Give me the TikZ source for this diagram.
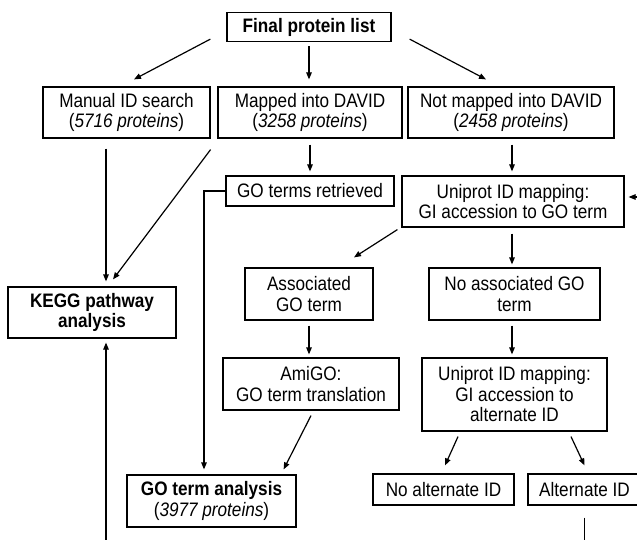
\documentclass[tikz,border=0pt]{standalone}
\usepackage{fontspec}
\setmainfont{Liberation Sans}[FakeStretch=0.88]
\usetikzlibrary{arrows.meta}
\tikzset{
    flow-box/.style = {draw=black, fill=white, line width=1.2pt, rectangle, align=center, inner sep=0pt, font=\fontsize{19.5}{20.5}\selectfont},
    flow-box-bold/.style = {flow-box, font=\fontsize{19.5}{20.5}\selectfont\bfseries},
    flow-arrow/.style = {line width=1.2pt, -{Triangle[length=7pt,width=5.5pt]}},
    flow-line/.style = {line width=1.2pt},
}
\begin{document}
\begin{tikzpicture}[x=1pt, y=-1pt]
\useasboundingbox (0,0) rectangle (637,540);
\fill[white] (0,0) rectangle (637,540);
\clip (0,0) rectangle (637,540);
\node [flow-box-bold, minimum width=164, minimum height=29] (final) at (309,27) {Final protein list};
\node [flow-box, minimum width=167, minimum height=51] (manual) at (126.5,112.5) {Manual ID search\\(\textit{5716 proteins})};
\node [flow-box, minimum width=184, minimum height=51] (mapped) at (310,112.5) {Mapped into DAVID\\(\textit{3258 proteins})};
\node [flow-box, minimum width=206, minimum height=51] (notmapped) at (511,112.5) {Not mapped into DAVID\\(\textit{2458 proteins})};
\node [flow-box, minimum width=168, minimum height=30] (goret) at (310,191) {GO terms retrieved};
\node [flow-box, minimum width=222, minimum height=51] (uniprot1) at (513,201.5) {Uniprot ID mapping:\\GI accession to GO term};
\node [flow-box-bold, minimum width=168, minimum height=51] (kegg) at (92,312.5) {KEGG pathway\\analysis};
\node [flow-box, minimum width=128, minimum height=52] (assoc) at (309,294) {Associated\\GO term};
\node [flow-box, minimum width=171, minimum height=52] (noassoc) at (514.5,294) {No associated GO\\term};
\node [flow-box, minimum width=176, minimum height=52] (amigo) at (311,384) {AmiGO:\\GO term translation};
\node [flow-box, minimum width=185, minimum height=73] (uniprot2) at (514.5,394.5) {Uniprot ID mapping:\\GI accession to\\alternate ID};
\node [flow-box, minimum width=169, minimum height=52] (goanal) at (211.5,501) {\textbf{GO term analysis}\\(\textit{3977 proteins})};
\node [flow-box, minimum width=141, minimum height=31] (noalt) at (443.5,489.5) {No alternate ID};
\node [flow-box, minimum width=113, minimum height=31] (alt) at (584.5,489.5) {Alternate ID};
% free ends leaving the picture
\coordinate (keggin) at (106,560);
\coordinate (altout) at (585,560);
\coordinate (loopin) at (660,197);
% connectors
\draw [flow-arrow] ([xshift=-16,yshift=3]final.south west) -- ([xshift=7.5,yshift=7]manual.north);
\draw [flow-arrow, shorten <=4pt, shorten >=7pt] (final.south) -- (final.south |- mapped.north);
\draw [flow-arrow] ([xshift=18,yshift=3]final.south east) -- ([xshift=-25,yshift=7]notmapped.north);
\draw [flow-arrow] ([xshift=-20.5,yshift=-10]manual.south) -- ([xshift=14,yshift=5]kegg.north);
\draw [flow-arrow] ([yshift=-11]manual.south east) -- ([xshift=21,yshift=7]kegg.north);
\draw [flow-arrow, shorten <=6pt, shorten >=4pt] (mapped.south) -- (mapped.south |- goret.north);
\draw [flow-arrow, shorten <=6pt, shorten >=4pt] ([xshift=1]notmapped.south) -- ([xshift=1]notmapped.south |- uniprot1.north);
\draw [flow-arrow] (goret.west) -| ([xshift=-7.5,yshift=5]goanal.north);
\draw [flow-arrow, shorten >=4pt] (loopin) -- (loopin -| uniprot1.east);
\draw [flow-arrow] ([xshift=-4,yshift=-2]uniprot1.south west) -- ([xshift=45,yshift=10]assoc.north);
\draw [flow-arrow, shorten <=6pt, shorten >=3pt] ([xshift=-1]uniprot1.south) -- ([xshift=-1]uniprot1.south |- noassoc.north);
\draw [flow-arrow, shorten <=5pt, shorten >=3pt] (assoc.south) -- (assoc.south |- amigo.north);
\draw [flow-arrow, shorten <=5pt, shorten >=3pt] ([xshift=-2.5]noassoc.south) -- ([xshift=-2.5]noassoc.south |- uniprot2.north);
\draw [flow-arrow] ([yshift=-5]amigo.south) -- ([xshift=-13,yshift=5]goanal.north east);
\draw [flow-arrow] ([xshift=-56.5,yshift=-5]uniprot2.south) -- ([xshift=1.5,yshift=8]noalt.north);
\draw [flow-arrow] ([xshift=56.5,yshift=-5]uniprot2.south) -- ([yshift=8]alt.north);
\draw [flow-arrow, shorten >=4pt] (keggin) -- (keggin |- kegg.south);
\draw [flow-line] ([yshift=-12]alt.south) -- (alt.south |- altout);
\end{tikzpicture}
\end{document}
